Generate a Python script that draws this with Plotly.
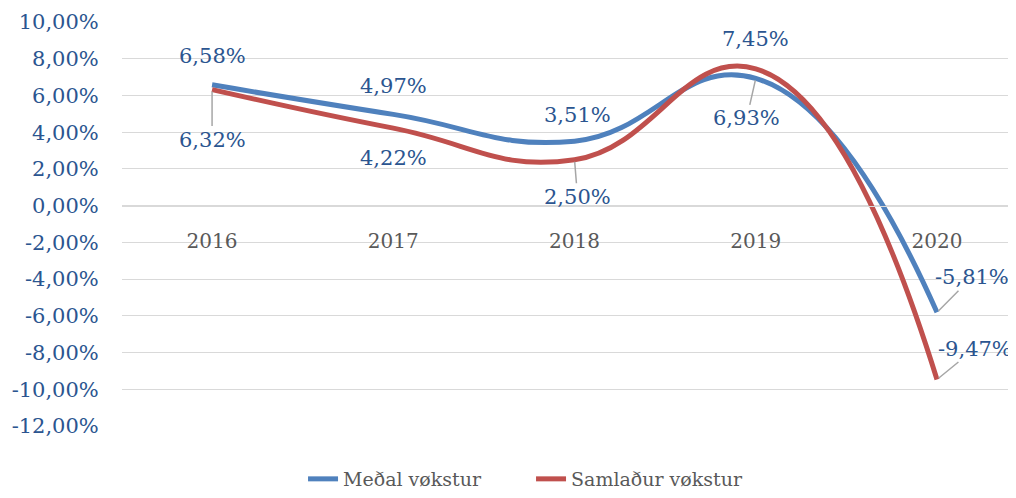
import plotly.graph_objects as go

years = ["2016", "2017", "2018", "2019", "2020"]
medal = [6.58, 4.97, 3.51, 6.93, -5.81]
samlad = [6.32, 4.22, 2.50, 7.45, -9.47]
names = ["Meðal vøkstur", "Samlaður vøkstur"]
yticks = [10, 8, 6, 4, 2, 0, -2, -4, -6, -8, -10, -12]

# label offsets in pixels (dx, dy) and whether a leader line is drawn
medal_lab = [(0, -29, False), (0, -28, False), (3, -26, False), (-9, 40, True), (35, -35, True)]
samlad_lab = [(0, 50, True), (0, 30, False), (3, 37, True), (0, -30, False), (38, -31, True)]

FONT = "DejaVu Serif"
LABEL_C = "#2B5590"

xpos = list(range(len(years)))


def fmt(v):
    return f"{v:.2f}".replace(".", ",") + "%"


fig = go.Figure()
fig.add_trace(go.Scatter(x=xpos, y=medal, name=names[0], mode="lines",
                         line=dict(color="#4F81BD", width=5, shape="spline", smoothing=1.3)))
fig.add_trace(go.Scatter(x=xpos, y=samlad, name=names[1], mode="lines",
                         line=dict(color="#C0504D", width=5, shape="spline", smoothing=1.3)))

for series, labs in ((medal, medal_lab), (samlad, samlad_lab)):
    for xi, v, (dx, dy, arrow) in zip(xpos, series, labs):
        if arrow:
            fig.add_annotation(x=xi, y=v, xref="x", yref="y", text=fmt(v), showarrow=True,
                               ax=dx, ay=dy, arrowhead=0, arrowwidth=1.5, arrowcolor="#A6A6A6",
                               standoff=2, font=dict(family=FONT, size=21, color=LABEL_C))
        else:
            fig.add_annotation(x=xi, y=v, xref="x", yref="y", text=fmt(v), showarrow=False,
                               xshift=dx, yshift=-dy, font=dict(family=FONT, size=21, color=LABEL_C))

fig.update_layout(
    width=1008, height=490,
    margin=dict(l=114, r=0, t=14, b=62),
    plot_bgcolor="white", paper_bgcolor="white",
    font=dict(family=FONT, size=21, color=LABEL_C),
    legend=dict(orientation="h", x=0.2025, xanchor="left", y=-0.085, yanchor="top",
                entrywidth=183, entrywidthmode="pixels",
                font=dict(family=FONT, size=19, color="#595959")),
    showlegend=True,
)
fig.update_yaxes(range=[-12, 10], tickvals=yticks, ticktext=[fmt(t) for t in yticks],
                 showgrid=True, gridcolor="#D9D9D9", gridwidth=1.3, zeroline=False,
                 ticks="outside", ticklen=0, ticklabelstandoff=18,
                 tickfont=dict(family=FONT, size=21, color=LABEL_C))
fig.update_xaxes(range=[-0.497, 4.436], tickvals=xpos, ticktext=years, showgrid=False, zeroline=False,
                 anchor="free", position=12 / 22, showline=True, linecolor="#D9D9D9", linewidth=1.3,
                 ticks="", ticklabelstandoff=17,
                 tickfont=dict(family=FONT, size=20, color="#595959"))

fig.write_html("out.html")
